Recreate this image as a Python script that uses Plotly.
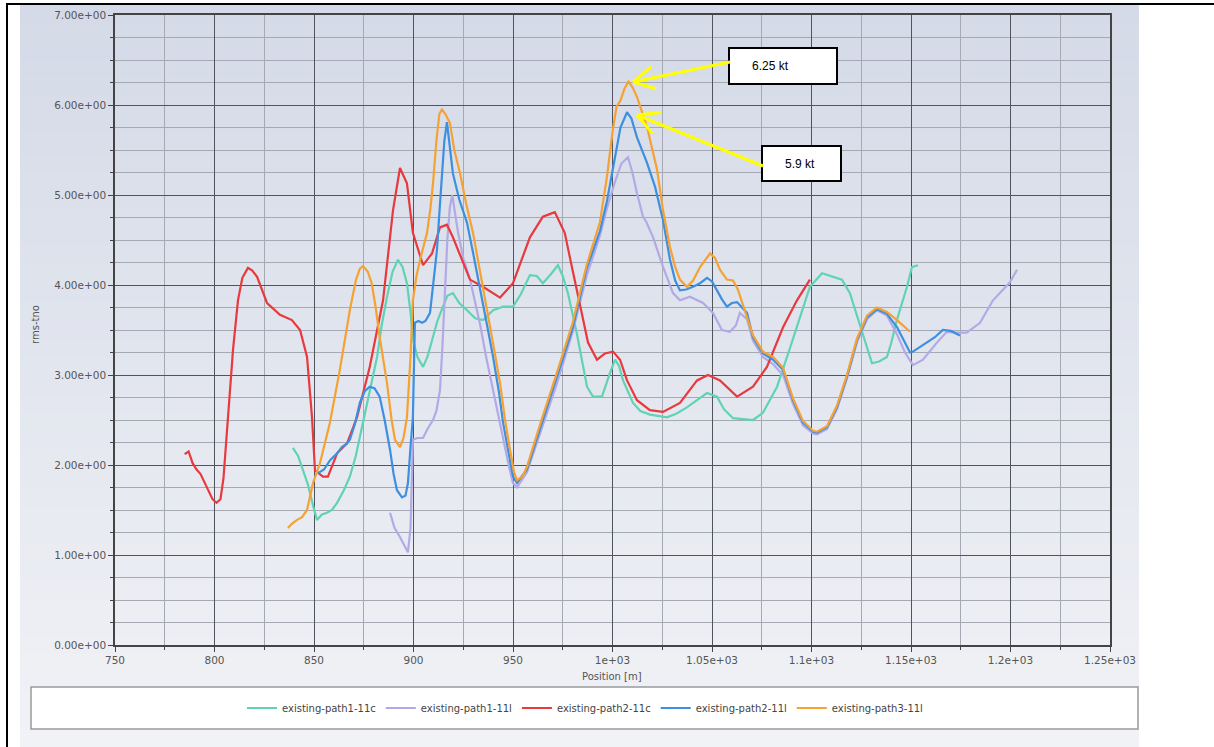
import math
import plotly.graph_objects as go

# ---------------- data ----------------
series_names = ["existing-path1-11c", "existing-path1-11l", "existing-path2-11c",
                "existing-path2-11l", "existing-path3-11l"]
series_colors = ["#5fd3b3", "#b3a9e6", "#e8393d", "#3d8fe0", "#f5a233"]

path1_11c_x = [839.4, 842, 844.5, 847, 849.5, 851.5, 854, 856.5, 859, 861.6, 865, 868, 871, 874.6, 878,
               881.7, 884, 886.7, 889.5, 892.2, 894.5, 896.7, 898.5, 899.7, 902, 904.8, 907, 909.8, 912,
               914.8, 917, 919.8, 923, 926.9, 931, 935, 940, 945, 950, 954, 958.5, 962, 965, 969, 972.6,
               975, 977.6, 982, 985, 987.2, 990.2, 994.7, 998.7, 1001.3, 1003.3, 1005.3, 1010.3, 1014,
               1018.8, 1027.4, 1032, 1037.4, 1043, 1047.5, 1052.5, 1056, 1060.6, 1070.6, 1075.6, 1082.7,
               1089.2, 1094.2, 1099.2, 1105.3, 1110, 1115.3, 1119.3, 1122, 1125.4, 1128, 1130.4, 1134,
               1137.9, 1140, 1142.9, 1145.5, 1148, 1150.5, 1153.5]
path1_11c_y = [2.19, 2.1, 1.94, 1.78, 1.55, 1.39, 1.45, 1.47, 1.5, 1.58, 1.72, 1.87, 2.1, 2.47, 2.85,
               3.2, 3.55, 3.87, 4.15, 4.28, 4.2, 4.02, 3.7, 3.39, 3.2, 3.09, 3.2, 3.42, 3.6,
               3.76, 3.88, 3.91, 3.8, 3.72, 3.63, 3.61, 3.72, 3.76, 3.76, 3.9, 4.11, 4.1, 4.02, 4.12, 4.22,
               4.1, 3.91, 3.47, 3.1, 2.87, 2.76, 2.76, 3.02, 3.17, 3.1, 2.94, 2.69, 2.6,
               2.56, 2.53, 2.57, 2.64, 2.73, 2.8, 2.76, 2.62, 2.52, 2.5, 2.58, 2.87,
               3.3, 3.65, 3.98, 4.13, 4.1, 4.06, 3.91, 3.72, 3.5, 3.3, 3.13, 3.15,
               3.2, 3.35, 3.61, 3.8, 3.98, 4.2, 4.22]

path1_11l_x = [888.2, 890.5, 893.2, 895.5, 897.2, 898.5, 899.7, 902, 904.8, 907, 909.8, 911.5, 913.3,
               914.5, 915.8, 917, 918.3, 919.5, 920.5, 922.4, 925, 928.4, 933.4, 936.5, 940, 945, 948,
               950, 952, 957, 963.6, 972, 980, 987, 993.7, 997.2, 1001.3, 1004.5, 1007.8, 1010, 1012.3,
               1015.3, 1017, 1020.4, 1025.4, 1030.4, 1033.9, 1038.9, 1045.5, 1050.5, 1055, 1059, 1062,
               1064, 1067.6, 1070.6, 1075.6, 1080.7, 1085.7, 1090.7, 1095.7, 1100.8, 1102.8, 1107.8,
               1112.8, 1117.8, 1122.9, 1127.9, 1132.9, 1137.9, 1143, 1147, 1151, 1156, 1163, 1168,
               1173, 1178, 1184.7, 1191.2, 1199.7, 1203.3]
path1_11l_y = [1.47, 1.3, 1.2, 1.1, 1.03, 1.3, 2.28, 2.3, 2.3, 2.4, 2.5, 2.6, 2.83,
               3.3, 3.94, 4.5, 4.87, 5.0, 4.85, 4.58, 4.3, 4.06, 3.57, 3.2, 2.83, 2.28, 1.98,
               1.8, 1.75, 1.92, 2.35, 2.9, 3.48, 4.1, 4.55, 4.85, 5.15, 5.35, 5.42, 5.25, 5.02,
               4.76, 4.7, 4.53, 4.2, 3.91, 3.83, 3.87, 3.8, 3.69, 3.5, 3.48, 3.55,
               3.69, 3.62, 3.38, 3.2, 3.12, 3.0, 2.68, 2.44, 2.35, 2.34, 2.4,
               2.62, 2.96, 3.37, 3.62, 3.72, 3.66, 3.45, 3.25, 3.11, 3.17, 3.36, 3.48,
               3.47, 3.47, 3.58, 3.83, 4.03, 4.17]

path2_11c_x = [785, 787, 789, 791, 793, 795, 797, 799, 801, 803, 804.5, 806.8, 809.3, 811.8, 814, 816.8,
               819, 821.4, 826.4, 832.9, 838.9, 843, 846.5, 849, 850.5, 854.5, 857, 861.6, 866.6, 871.6,
               878, 884.7, 889.7, 893.2, 896.7, 899.7, 904.8, 909.3, 913.3, 916.8, 919.8, 928.4, 934.9,
               943.5, 950, 958.5, 965, 971, 976, 979.6, 983.7, 987.7, 992.2, 996.2, 1000.3, 1003.8,
               1007.3, 1012.3, 1018.8, 1025.4, 1033.9, 1042.5, 1048, 1054, 1062.6, 1070.6, 1077.6,
               1085.7, 1092.7, 1099.2]
path2_11c_y = [2.12, 2.15, 2.02, 1.95, 1.9, 1.8, 1.72, 1.62, 1.58, 1.62, 1.85, 2.53, 3.28, 3.83, 4.08, 4.19,
               4.16, 4.09, 3.8, 3.67, 3.61, 3.5, 3.2, 2.53, 1.94, 1.87, 1.87, 2.13, 2.24, 2.53,
               3.09, 3.83, 4.83, 5.3, 5.13, 4.58, 4.22, 4.35, 4.64, 4.67, 4.53, 4.06, 3.98,
               3.86, 4.02, 4.53, 4.76, 4.81, 4.58, 4.2, 3.76, 3.36, 3.17, 3.24, 3.26, 3.17,
               2.94, 2.72, 2.61, 2.59, 2.69, 2.94, 3.0, 2.94, 2.76, 2.87, 3.09,
               3.53, 3.83, 4.06]

path2_11l_x = [852, 855, 858, 861.6, 864, 866.6, 868, 870.5, 873, 875.5, 878, 880.5, 883, 885.5, 888.2,
               890, 891.7, 894.2, 896, 897.2, 898.5, 899.7, 900.7, 902.5, 904.3, 906, 908.3, 910, 911.8,
               913, 914.3, 915.5, 916.8, 918, 919.8, 923, 926.9, 930, 933.4, 937, 940, 943, 945, 948,
               950, 952, 957, 963.6, 972, 980, 987, 993.7, 997.2, 1001.3, 1004, 1007.3, 1009.5, 1012.3,
               1017.3, 1021.4, 1025.4, 1028.9, 1031.5, 1033.9, 1037, 1040.5, 1044, 1047.5, 1050, 1052.5,
               1055, 1057.5, 1060, 1062.6, 1065, 1067.6, 1070.6, 1075.6, 1080.7, 1085.7, 1090.7, 1095.7,
               1100.8, 1102.8, 1107.8, 1112.8, 1117.8, 1122.9, 1127.9, 1132.9, 1137.9, 1143, 1146.5,
               1149.5, 1151, 1158, 1162, 1166, 1170, 1174.6]
path2_11l_y = [1.91, 1.95, 2.05, 2.13, 2.2, 2.24, 2.28, 2.45, 2.69, 2.82, 2.87, 2.85, 2.76, 2.5, 2.17,
               1.9, 1.72, 1.64, 1.66, 1.8, 2.2, 2.53, 3.58, 3.6, 3.58, 3.6, 3.69, 4.0, 4.39,
               4.8, 5.2, 5.6, 5.81, 5.6, 5.24, 4.95, 4.69, 4.35, 3.94, 3.55, 3.2, 2.8, 2.47, 2.12,
               1.87, 1.8, 1.95, 2.4, 2.97, 3.52, 4.18, 4.6, 4.93, 5.4, 5.75, 5.92, 5.85, 5.64,
               5.36, 5.09, 4.72, 4.28, 4.05, 3.94, 3.95, 3.98, 4.02, 4.08, 4.04, 3.94,
               3.84, 3.76, 3.8, 3.81, 3.75, 3.69, 3.42, 3.24, 3.17, 3.06, 2.72, 2.47,
               2.37, 2.36, 2.42, 2.64, 2.98, 3.39, 3.64, 3.73, 3.68, 3.53, 3.38,
               3.25, 3.26, 3.36, 3.42, 3.5, 3.49, 3.44]

path3_11l_x = [836.9, 839, 841.5, 844, 846.5, 849.5, 853, 858, 863, 868, 871, 873, 874.6, 877, 879, 881,
               883, 886.7, 889, 890.7, 893.2, 895, 896.7, 898.5, 899.7, 901.5, 903.3, 906.8, 908.5,
               909.8, 911.5, 913, 914.3, 916, 918.3, 920.5, 923.4, 926.5, 929.9, 933.5, 936.9, 940,
               943.5, 946, 948.5, 950.5, 952, 955, 957, 963.6, 972, 980, 987, 993.7, 997.2, 1000, 1002,
               1004, 1006, 1008, 1010, 1012.3, 1017.3, 1022.4, 1025.4, 1028.9, 1031.5, 1033.9, 1037.4,
               1040.5, 1044, 1049, 1051.5, 1054, 1057.5, 1060.6, 1063, 1065.6, 1070.6, 1075.6, 1080.7,
               1085.7, 1090.7, 1095.7, 1100.8, 1102.8, 1107.8, 1112.8, 1117.8, 1122.9, 1127.9, 1132.9,
               1137.9, 1143, 1149.5]
path3_11l_y = [1.3, 1.35, 1.39, 1.42, 1.5, 1.8, 2.02, 2.47, 3.06, 3.72, 4.05, 4.18, 4.21, 4.15, 4.02, 3.75,
               3.42, 2.91, 2.5, 2.28, 2.2, 2.3, 2.53, 3.2, 3.83, 4.1, 4.28, 4.58, 4.85,
               5.13, 5.6, 5.9, 5.95, 5.9, 5.8, 5.5, 5.24, 4.9, 4.58, 4.15, 3.76, 3.35,
               2.91, 2.5, 2.17, 1.92, 1.83, 1.88, 1.98, 2.45, 3.02, 3.58, 4.22, 4.7, 5.2, 5.7, 5.98,
               6.05, 6.18, 6.26, 6.2, 6.09, 5.76, 5.28, 4.83, 4.42, 4.2, 4.06, 3.98,
               4.05, 4.2, 4.35, 4.3, 4.17, 4.06, 4.05, 3.95, 3.78, 3.44, 3.26, 3.2,
               3.08, 2.74, 2.49, 2.38, 2.37, 2.43, 2.66, 3.0, 3.41, 3.66, 3.75,
               3.7, 3.61, 3.48]

series_x = [path1_11c_x, path1_11l_x, path2_11c_x, path2_11l_x, path3_11l_x]
series_y = [path1_11c_y, path1_11l_y, path2_11c_y, path2_11l_y, path3_11l_y]

x_tick_vals = [750, 800, 850, 900, 950, 1000, 1050, 1100, 1150, 1200, 1250]
x_tick_text = ["750", "800", "850", "900", "950", "1e+03", "1.05e+03", "1.1e+03", "1.15e+03",
               "1.2e+03", "1.25e+03"]
y_tick_vals = [0, 1, 2, 3, 4, 5, 6, 7]
y_tick_text = ["0.00e+00", "1.00e+00", "2.00e+00", "3.00e+00", "4.00e+00", "5.00e+00",
               "6.00e+00", "7.00e+00"]

callouts = ["6.25 kt", "5.9 kt"]

# ---------------- layout geometry ----------------
W, H = 1214, 747
L, R, T, B = 115, 104, 15, 102
PW = W - L - R
PH = H - T - B


def px(x):
    return (x - L) / PW


def py(y):
    return (H - B - y) / PH


FONT = "DejaVu Sans"
fig = go.Figure()
for name, color, xs, ys in zip(series_names, series_colors, series_x, series_y):
    fig.add_trace(go.Scatter(x=xs, y=ys, mode="lines", name=name,
                             line=dict(color=color, width=2.2)))

shapes = []
# gradient background of the screenshot region
top_c = (212, 218, 231)
bot_c = (241, 242, 246)
n = 40
y_start, y_end = 5, 747
for i in range(n):
    t = i / (n - 1)
    c = tuple(int(round(top_c[k] + (bot_c[k] - top_c[k]) * t)) for k in range(3))
    ya = y_start + (y_end - y_start) * i / n
    yb = y_start + (y_end - y_start) * (i + 1) / n
    shapes.append(dict(type="rect", xref="paper", yref="paper", layer="below",
                       x0=px(20), x1=px(1139), y0=py(ya), y1=py(yb + 0.6),
                       line=dict(width=0), fillcolor="rgb(%d,%d,%d)" % c))
# legend box
shapes.append(dict(type="rect", xref="paper", yref="paper", layer="below",
                   x0=px(31), x1=px(1138), y0=py(687), y1=py(729),
                   line=dict(color="#9a9a9a", width=1.5), fillcolor="white"))
# outer frame lines
shapes.append(dict(type="line", xref="paper", yref="paper", x0=px(7), x1=px(7),
                   y0=py(3), y1=py(747), line=dict(color="black", width=2)))
shapes.append(dict(type="line", xref="paper", yref="paper", x0=px(6), x1=px(1214),
                   y0=py(4), y1=py(4), line=dict(color="black", width=2)))
# callout boxes
boxes = [(729, 48, 837, 84), (762, 146, 841, 181)]
for (bx0, by0, bx1, by1) in boxes:
    shapes.append(dict(type="rect", xref="paper", yref="paper", x0=px(bx0), x1=px(bx1),
                       y0=py(by0), y1=py(by1), line=dict(color="black", width=2),
                       fillcolor="white"))
# yellow arrows (tail -> tip) with open chevron heads
arrows = [((730, 62), (633, 82)), ((763, 166), (637, 115))]
for (tx, ty), (hx, hy) in arrows:
    shapes.append(dict(type="line", xref="paper", yref="paper", x0=px(tx), y0=py(ty),
                       x1=px(hx), y1=py(hy), line=dict(color="#ffff00", width=3)))
    dx, dy = tx - hx, ty - hy
    d = math.hypot(dx, dy)
    ux, uy = dx / d, dy / d
    for ang in (math.radians(28), -math.radians(28)):
        rx = ux * math.cos(ang) - uy * math.sin(ang)
        ry = ux * math.sin(ang) + uy * math.cos(ang)
        shapes.append(dict(type="line", xref="paper", yref="paper", x0=px(hx), y0=py(hy),
                           x1=px(hx + 24 * rx), y1=py(hy + 24 * ry),
                           line=dict(color="#ffff00", width=3)))

annotations = [
    dict(text=callouts[0], xref="paper", yref="paper", x=px(770), y=py(66), showarrow=False,
         xanchor="center", yanchor="middle",
         font=dict(family="Liberation Sans, Arial", size=12, color="black")),
    dict(text=callouts[1], xref="paper", yref="paper", x=px(800), y=py(164), showarrow=False,
         xanchor="center", yanchor="middle",
         font=dict(family="Liberation Sans, Arial", size=12, color="black")),
    dict(text="rms-tno", xref="paper", yref="paper", x=px(35), y=py(325), showarrow=False,
         xanchor="center", yanchor="middle",
         textangle=-90, font=dict(family=FONT, size=10, color="#555")),
    dict(text="Position [m]", xref="paper", yref="paper", x=px(612), y=py(676), showarrow=False,
         xanchor="center", yanchor="middle",
         font=dict(family=FONT, size=10, color="#555")),
]

axis_common = dict(showgrid=True, gridcolor="#4f545e", gridwidth=1.2, zeroline=False,
                   showline=True, mirror=True, linecolor="#444", linewidth=1.5,
                   ticks="outside", ticklen=5, tickcolor="#444",
                   tickfont=dict(family=FONT, size=10.5, color="#555"))

fig.update_layout(
    width=W, height=H,
    margin=dict(l=L, r=R, t=T, b=B, autoexpand=False),
    paper_bgcolor="white", plot_bgcolor="rgba(0,0,0,0)",
    xaxis=dict(range=[750, 1250], tickvals=x_tick_vals, ticktext=x_tick_text,
               minor=dict(dtick=25, tick0=750, showgrid=True, gridcolor="#a4a9b4", gridwidth=1,
                          ticks="outside", ticklen=3, tickcolor="#444"),
               **axis_common),
    yaxis=dict(range=[0, 7], tickvals=y_tick_vals, ticktext=y_tick_text,
               minor=dict(dtick=0.25, tick0=0, showgrid=True, gridcolor="#a4a9b4", gridwidth=1,
                          ticks="outside", ticklen=3, tickcolor="#444"),
               **axis_common),
    showlegend=True,
    legend=dict(orientation="h", x=px(585), xanchor="center", y=py(708), yanchor="middle",
                bgcolor="rgba(0,0,0,0)", font=dict(family=FONT, size=10, color="#444"),
                itemwidth=30, tracegroupgap=0),
    shapes=shapes,
    annotations=annotations,
)

fig.write_html("out.html", config={"displayModeBar": False},
               post_script="document.body.style.margin='0';document.body.style.overflow='hidden';")
